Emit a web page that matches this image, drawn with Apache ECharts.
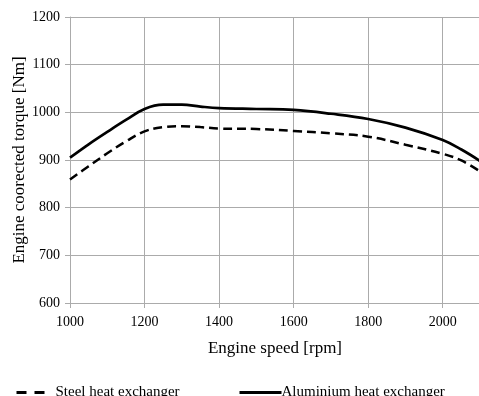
<!DOCTYPE html>
<html>
<head>
<meta charset="utf-8">
<script src="https://cdn.jsdelivr.net/npm/echarts@6/dist/echarts.min.js"></script>
<style>
  html, body { margin: 0; padding: 0; background: #fff; }
  #chart { width: 479px; height: 396px; }
</style>
</head>
<body>
<div id="chart"></div>
<script>
// engine speed [rpm]
var speeds = [1000, 1050, 1100, 1150, 1200, 1250, 1300, 1350, 1400, 1500, 1600, 1700, 1800, 1900, 2000, 2050, 2100];
// corrected torque [Nm]
var steelTorque = [859, 887, 914, 939, 960, 969, 971, 969, 966, 965, 961, 956, 949, 932, 913, 899, 876];
var aluTorque = [905, 933, 959, 984, 1007, 1016, 1016, 1012, 1009, 1007, 1005, 997, 986, 968, 942, 922, 898];

var xTicks = { min: 1000, max: 2100, interval: 200 };
var yTicks = { min: 600, max: 1200, interval: 100 };

var font = 'Liberation Serif';
var gridColor = '#ababab';

function pairs(xs, ys) {
    var out = [];
    for (var i = 0; i < xs.length; i++) {
        out.push([xs[i], ys[i]]);
    }
    return out;
}

var chart = echarts.init(document.getElementById('chart'));
var options = {
    animation: false,
    grid: {
        left: 70,
        right: -1,
        top: 17,
        bottom: 93,
        containLabel: false,
        outerBoundsMode: 'none'
    },
    legend: [{
        left: 10,
        top: 380,
        itemWidth: 30,
        itemHeight: 10,
        data: ['Steel heat exchanger'],
        itemStyle: { opacity: 0 },
        lineStyle: { type: [10, 8], width: 3 },
        textStyle: { fontFamily: font, fontSize: 15, color: '#000', padding: [0, 0, 0, 4] }
    }, {
        left: 233,
        top: 380,
        itemWidth: 42,
        itemHeight: 10,
        data: ['Aluminium heat exchanger'],
        itemStyle: { opacity: 0 },
        lineStyle: { width: 3 },
        textStyle: { fontFamily: font, fontSize: 15, color: '#000', padding: [0, 0, 0, -5] }
    }],
    xAxis: {
        type: 'value',
        min: xTicks.min,
        max: xTicks.max,
        interval: xTicks.interval,
        name: 'Engine speed [rpm]',
        nameLocation: 'middle',
        nameGap: 37,
        nameTextStyle: { fontFamily: font, fontSize: 17, color: '#000' },
        axisLine: { show: true, lineStyle: { color: gridColor } },
        axisTick: { show: true, length: 5, inside: false, lineStyle: { color: gridColor } },
        axisLabel: {
            fontFamily: font, fontSize: 14, color: '#000', margin: 12,
            formatter: function (v) { return v % 200 === 0 ? String(v) : ''; }
        },
        splitLine: { show: true, lineStyle: { color: gridColor, width: 1 } }
    },
    yAxis: {
        type: 'value',
        min: yTicks.min,
        max: yTicks.max,
        interval: yTicks.interval,
        name: 'Engine coorected torque [Nm]',
        nameLocation: 'middle',
        nameGap: 42,
        nameMoveOverlap: false,
        nameTextStyle: { fontFamily: font, fontSize: 17, color: '#000' },
        axisLine: { show: true, lineStyle: { color: gridColor } },
        axisTick: { show: true, length: 5, lineStyle: { color: gridColor } },
        axisLabel: {
            fontFamily: font, fontSize: 14, color: '#000', margin: 10,
            formatter: function (v) { return String(v); }
        },
        splitLine: { show: true, lineStyle: { color: gridColor, width: 1 } }
    },
    series: [{
        name: 'Steel heat exchanger',
        type: 'line',
        data: pairs(speeds, steelTorque),
        smooth: 0.4,
        showSymbol: false,
        symbol: 'none',
        lineStyle: { color: '#000', width: 2.5, type: [9, 5] },
        itemStyle: { color: '#000' }
    }, {
        name: 'Aluminium heat exchanger',
        type: 'line',
        data: pairs(speeds, aluTorque),
        smooth: 0.4,
        showSymbol: false,
        symbol: 'none',
        lineStyle: { color: '#000', width: 2.7 },
        itemStyle: { color: '#000' }
    }]
};
chart.setOption(options);
</script>
</body>
</html>
